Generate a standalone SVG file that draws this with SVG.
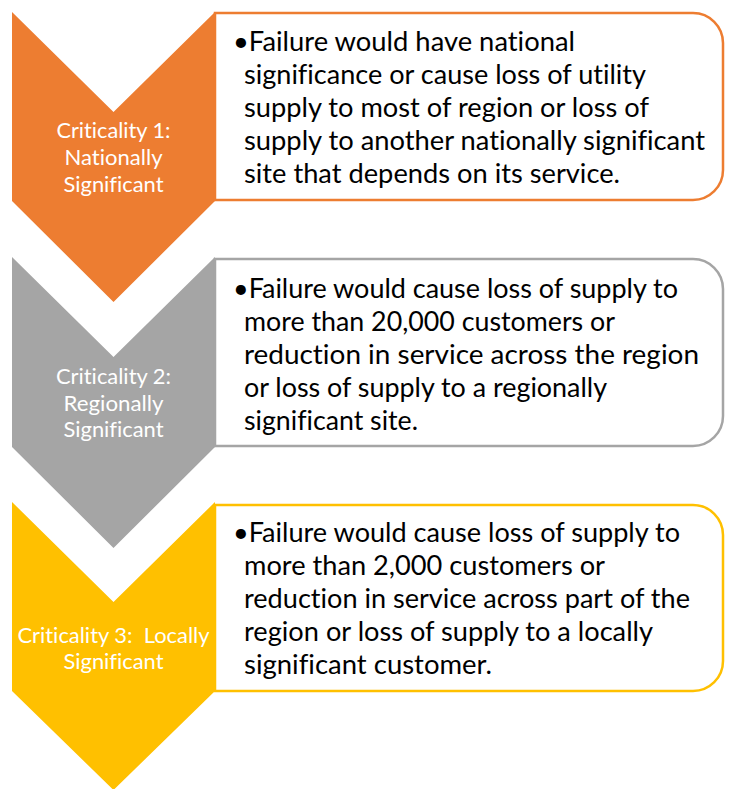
<svg xmlns="http://www.w3.org/2000/svg" width="731" height="789" viewBox="0 0 731 789">
<style>
.lbl{font-family:Lato,"Liberation Sans",sans-serif;font-size:21px;fill:#ffffff;text-anchor:middle;font-variant-ligatures:none;font-feature-settings:"liga" 0}
.txt{font-family:Lato,"Liberation Sans",sans-serif;font-size:27px;fill:#000000;font-variant-ligatures:none;font-feature-settings:"liga" 0}
.box{fill:#ffffff;stroke-width:2.5}
</style>
<rect width="731" height="789" fill="#ffffff"/>
<g id="level1">
<polygon points="12,12 113.5,112 215,12 215,201 113.5,302 12,201" fill="#ED7D31"/>
<text class="lbl" x="113.5" y="138" textLength="114" lengthAdjust="spacingAndGlyphs">Criticality 1:</text>
<text class="lbl" x="113.5" y="165" textLength="98" lengthAdjust="spacingAndGlyphs">Nationally</text>
<text class="lbl" x="113.5" y="192" textLength="100" lengthAdjust="spacingAndGlyphs">Significant</text>
</g>
<g id="desc1">
<path class="box" stroke="#ED7D31" d="M215,13 H693 A30,30 0 0 1 723,43 V170 A30,30 0 0 1 693,200 H215 Z"/>
<text class="txt" x="233" y="51" textLength="342" lengthAdjust="spacingAndGlyphs">•Failure would have national</text>
<text class="txt" x="244" y="84" textLength="402" lengthAdjust="spacingAndGlyphs">significance or cause loss of utility</text>
<text class="txt" x="244" y="117" textLength="405" lengthAdjust="spacingAndGlyphs">supply to most of region or loss of</text>
<text class="txt" x="244" y="150" textLength="461" lengthAdjust="spacingAndGlyphs">supply to another nationally significant</text>
<text class="txt" x="244" y="183" textLength="376" lengthAdjust="spacingAndGlyphs">site that depends on its service.</text>
</g>
<g id="level2">
<polygon points="12,257 113.5,357 215,257 215,447 113.5,548 12,447" fill="#A5A5A5"/>
<text class="lbl" x="113.5" y="384" textLength="115" lengthAdjust="spacingAndGlyphs">Criticality 2:</text>
<text class="lbl" x="113.5" y="411" textLength="100" lengthAdjust="spacingAndGlyphs">Regionally</text>
<text class="lbl" x="113.5" y="437" textLength="100" lengthAdjust="spacingAndGlyphs">Significant</text>
</g>
<g id="desc2">
<path class="box" stroke="#A5A5A5" d="M215,259 H693 A30,30 0 0 1 723,289 V416 A30,30 0 0 1 693,446 H215 Z"/>
<text class="txt" x="233" y="298" textLength="445" lengthAdjust="spacingAndGlyphs">•Failure would cause loss of supply to</text>
<text class="txt" x="244" y="331" textLength="371" lengthAdjust="spacingAndGlyphs">more than 20,000 customers or</text>
<text class="txt" x="244" y="364" textLength="455" lengthAdjust="spacingAndGlyphs">reduction in service across the region</text>
<text class="txt" x="244" y="397" textLength="363" lengthAdjust="spacingAndGlyphs">or loss of supply to a regionally</text>
<text class="txt" x="244" y="430" textLength="174" lengthAdjust="spacingAndGlyphs">significant site.</text>
</g>
<g id="level3">
<polygon points="12,502 113.5,602 215,502 215,691 113.5,790 12,691" fill="#FFC000"/>
<text class="lbl" x="113.5" y="643" textLength="192" lengthAdjust="spacingAndGlyphs" xml:space="preserve">Criticality 3:  Locally</text>
<text class="lbl" x="113.5" y="669" textLength="100" lengthAdjust="spacingAndGlyphs">Significant</text>
</g>
<g id="desc3">
<path class="box" stroke="#FFC000" d="M215,505 H693 A30,30 0 0 1 723,535 V661 A30,30 0 0 1 693,691 H215 Z"/>
<text class="txt" x="233" y="542" textLength="447" lengthAdjust="spacingAndGlyphs">•Failure would cause loss of supply to</text>
<text class="txt" x="244" y="575" textLength="361" lengthAdjust="spacingAndGlyphs">more than 2,000 customers or</text>
<text class="txt" x="244" y="608" textLength="446" lengthAdjust="spacingAndGlyphs">reduction in service across part of the</text>
<text class="txt" x="244" y="641" textLength="409" lengthAdjust="spacingAndGlyphs">region or loss of supply to a locally</text>
<text class="txt" x="244" y="674" textLength="248" lengthAdjust="spacingAndGlyphs">significant customer.</text>
</g>
<g id="connectors"></g>
</svg>
